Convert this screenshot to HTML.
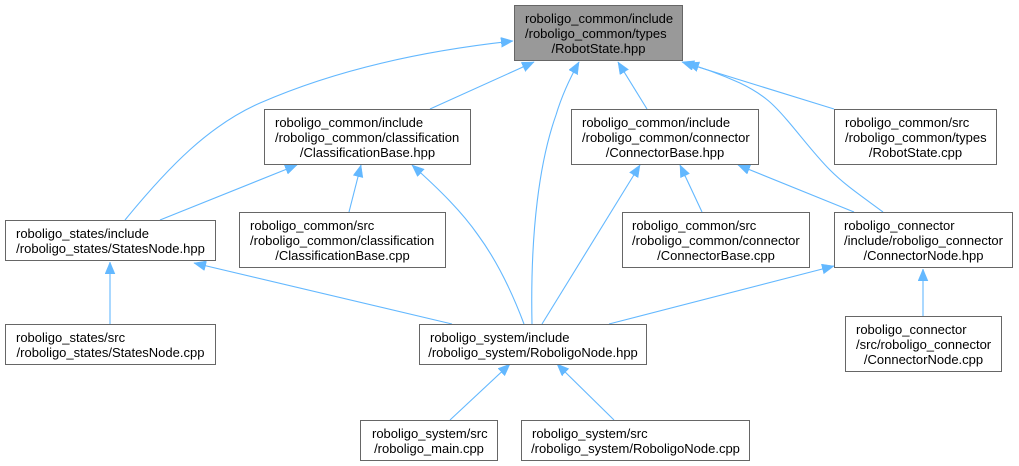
<!DOCTYPE html>
<html>
<head>
<meta charset="utf-8">
<style>
  html, body { margin:0; padding:0; background:#ffffff; }
  svg { display:block; }
  text { font-family: "Liberation Sans", Arial, sans-serif; font-size:13px; fill:#000; }
</style>
</head>
<body>
<svg width="1019" height="466" viewBox="0 0 1019 466" xmlns="http://www.w3.org/2000/svg">
  <defs>
    <marker id="ah" markerUnits="userSpaceOnUse" markerWidth="14" markerHeight="12" refX="12" refY="5" orient="auto">
      <path d="M0,0 L12,5 L0,10 z" fill="#63b8ff" stroke="#63b8ff" stroke-width="0.5"/>
    </marker>
  </defs>

  <!-- edges -->
  <g fill="none" stroke="#63b8ff" stroke-width="1.1" marker-end="url(#ah)">
    <path d="M125,220 C170,165 210,125 260,103 C340,68 430,50 513,41"/>
    <path d="M430,109 L534,62"/>
    <path d="M532,324 C530,230 540,160 556,115 C562,95 570,78 579,62"/>
    <path d="M647,109 L618,62"/>
    <path d="M883,212 C860,195 845,185 830,170 C815,155 800,135 787,120 C775,106 765,95 740,83 C720,74 705,69 687,63"/>
    <path d="M834,109 L682,62"/>
    <path d="M160,220 L297,165"/>
    <path d="M349,212 L361,165"/>
    <path d="M524,324 C515,300 500,265 478,235 C462,212 440,190 412,165"/>
    <path d="M542,324 L640,165"/>
    <path d="M702,212 L680,165"/>
    <path d="M854,212 L738,165"/>
    <path d="M452,324 L194,263"/>
    <path d="M110,324 L110,262"/>
    <path d="M609,324 L834,266"/>
    <path d="M923,316 L923,269"/>
    <path d="M450,420 L510,364"/>
    <path d="M614,420 L557,364"/>
  </g>

  <!-- nodes -->
  <g stroke="#666666" stroke-width="1">
    <rect x="514.5" y="5.5" width="168" height="55" fill="#999999"/>
    <rect x="264.5" y="109.5" width="206" height="55" fill="#ffffff"/>
    <rect x="571.5" y="109.5" width="187" height="55" fill="#ffffff"/>
    <rect x="834.5" y="109.5" width="162" height="55" fill="#ffffff"/>
    <rect x="5.5" y="220.5" width="210" height="40" fill="#ffffff"/>
    <rect x="239.5" y="212.5" width="206" height="55" fill="#ffffff"/>
    <rect x="622.5" y="212.5" width="187" height="55" fill="#ffffff"/>
    <rect x="834.5" y="212.5" width="178" height="55" fill="#ffffff"/>
    <rect x="5.5" y="324.5" width="210" height="40" fill="#ffffff"/>
    <rect x="419.5" y="324.5" width="227" height="40" fill="#ffffff"/>
    <rect x="845.5" y="316.5" width="156" height="55" fill="#ffffff"/>
    <rect x="360.5" y="420.5" width="137" height="40" fill="#ffffff"/>
    <rect x="521.5" y="420.5" width="228" height="40" fill="#ffffff"/>
  </g>

  <!-- labels -->
  <g>
    <text x="525" y="23">roboligo_common/include</text>
    <text x="525" y="38">/roboligo_common/types</text>
    <text x="598.5" y="53" text-anchor="middle">/RobotState.hpp</text>

    <text x="275" y="127">roboligo_common/include</text>
    <text x="275" y="142">/roboligo_common/classification</text>
    <text x="367.5" y="157" text-anchor="middle">/ClassificationBase.hpp</text>

    <text x="582" y="127">roboligo_common/include</text>
    <text x="582" y="142">/roboligo_common/connector</text>
    <text x="665" y="157" text-anchor="middle">/ConnectorBase.hpp</text>

    <text x="845" y="127">roboligo_common/src</text>
    <text x="845" y="142">/roboligo_common/types</text>
    <text x="915.5" y="157" text-anchor="middle">/RobotState.cpp</text>

    <text x="16" y="238">roboligo_states/include</text>
    <text x="110.5" y="253" text-anchor="middle">/roboligo_states/StatesNode.hpp</text>

    <text x="250" y="230">roboligo_common/src</text>
    <text x="250" y="245">/roboligo_common/classification</text>
    <text x="342.5" y="260" text-anchor="middle">/ClassificationBase.cpp</text>

    <text x="632" y="230">roboligo_common/src</text>
    <text x="632" y="245">/roboligo_common/connector</text>
    <text x="716" y="260" text-anchor="middle">/ConnectorBase.cpp</text>

    <text x="844" y="230">roboligo_connector</text>
    <text x="844" y="245">/include/roboligo_connector</text>
    <text x="923.5" y="260" text-anchor="middle">/ConnectorNode.hpp</text>

    <text x="16" y="342">roboligo_states/src</text>
    <text x="110.5" y="357" text-anchor="middle">/roboligo_states/StatesNode.cpp</text>

    <text x="430" y="342">roboligo_system/include</text>
    <text x="533" y="357" text-anchor="middle">/roboligo_system/RoboligoNode.hpp</text>

    <text x="856" y="334">roboligo_connector</text>
    <text x="856" y="349">/src/roboligo_connector</text>
    <text x="923.5" y="364" text-anchor="middle">/ConnectorNode.cpp</text>

    <text x="372" y="438">roboligo_system/src</text>
    <text x="429" y="453" text-anchor="middle">/roboligo_main.cpp</text>

    <text x="532" y="438">roboligo_system/src</text>
    <text x="635.5" y="453" text-anchor="middle">/roboligo_system/RoboligoNode.cpp</text>
  </g>
</svg>
</body>
</html>
